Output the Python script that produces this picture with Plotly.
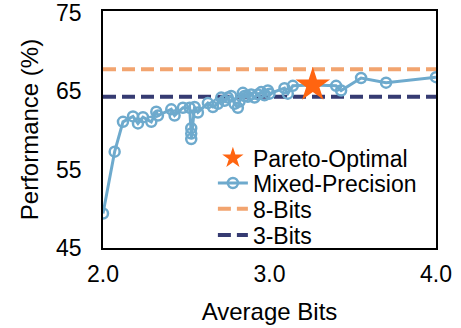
import plotly.graph_objects as go

avg_bits = [2.00, 2.07, 2.12, 2.18, 2.21, 2.24, 2.29, 2.32, 2.33, 2.41, 2.43, 2.48, 2.52,
            2.53, 2.53, 2.53, 2.55, 2.57, 2.63, 2.66, 2.69, 2.71, 2.73, 2.75, 2.77, 2.79,
            2.81, 2.82, 2.84, 2.85, 2.87, 2.89, 2.91, 2.93, 2.95, 2.97, 2.99, 3.00, 3.09,
            3.11, 3.14, 3.26, 3.40, 3.43, 3.55, 3.70, 4.00]
performance = [49.4, 57.3, 61.1, 61.8, 60.9, 61.7, 61.1, 62.4, 61.9, 62.7, 61.9, 62.9, 62.9,
               60.3, 59.6, 58.9, 63.0, 62.3, 63.5, 63.0, 63.4, 64.2, 63.8, 64.2, 64.4, 63.4,
               62.9, 63.7, 64.8, 64.4, 64.3, 64.6, 64.2, 64.6, 64.9, 64.5, 65.1, 64.7, 65.4,
               64.7, 65.7, 65.8, 65.7, 65.1, 66.7, 66.1, 66.8]
pareto_bits = [3.26]
pareto_perf = [65.8]
bits8_perf = 67.8
bits3_perf = 64.3
x_range = [2.0, 4.0]
x_ticks = [2.0, 3.0, 4.0]
y_range = [45, 75.25]
y_ticks = [45, 55, 65, 75]

FONT = "Liberation Sans, Arial, sans-serif"

fig = go.Figure()
fig.add_trace(go.Scatter(
    x=x_range, y=[bits8_perf, bits8_perf], mode="lines", name="8-Bits", legend="legend3",
    line=dict(color="#f2a46f", width=4, dash="13px,6px")))
fig.add_trace(go.Scatter(
    x=x_range, y=[bits3_perf, bits3_perf], mode="lines", name="3-Bits", legend="legend4",
    line=dict(color="#363b72", width=4, dash="13px,6px")))
fig.add_trace(go.Scatter(
    x=avg_bits, y=performance, mode="lines+markers", name="Mixed-Precision",
    legend="legend2",
    line=dict(color="#6eaacd", width=3),
    marker=dict(symbol="circle-open", size=10, color="#6eaacd", line=dict(width=2.5))))
fig.add_trace(go.Scatter(
    x=pareto_bits, y=pareto_perf, mode="markers", name="Pareto-Optimal", legend="legend",
    marker=dict(symbol="star", size=26, color="#ff6410", line=dict(width=0))))

def leg(y):
    return dict(x=0.330, y=y, xanchor="left", yanchor="middle",
                bgcolor="rgba(0,0,0,0)", font=dict(size=23), itemwidth=30)

fig.update_layout(
    width=461, height=328,
    margin=dict(l=103, r=25, t=11, b=80, autoexpand=False),
    paper_bgcolor="white", plot_bgcolor="white",
    font=dict(family=FONT, size=24, color="black"),
    showlegend=True,
    legend=leg(0.380), legend2=leg(0.274), legend3=leg(0.165), legend4=leg(0.055),
    xaxis=dict(range=x_range, tickvals=x_ticks, ticktext=["2.0", "3.0", "4.0"],
               showgrid=False, zeroline=False, showline=True, mirror=True,
               linecolor="black", linewidth=1.5, ticks="outside", ticklen=5,
               tickcolor="rgba(0,0,0,0)", automargin=False, ticklabeloverflow="allow",
               tickfont=dict(size=23),
               title=dict(text="Average Bits", standoff=17, font=dict(size=24))),
    yaxis=dict(range=y_range, tickvals=y_ticks, showgrid=False, zeroline=False,
               showline=True, mirror=True, linecolor="black", linewidth=1.5,
               ticks="outside", ticklen=15, tickcolor="rgba(0,0,0,0)", automargin=False,
               ticklabeloverflow="allow", tickfont=dict(size=23),
               title=dict(text="Performance (%)", standoff=11, font=dict(size=24))),
)

fig.write_html("out.html", config={"displayModeBar": False},
               post_script="document.body.style.margin='0';")
